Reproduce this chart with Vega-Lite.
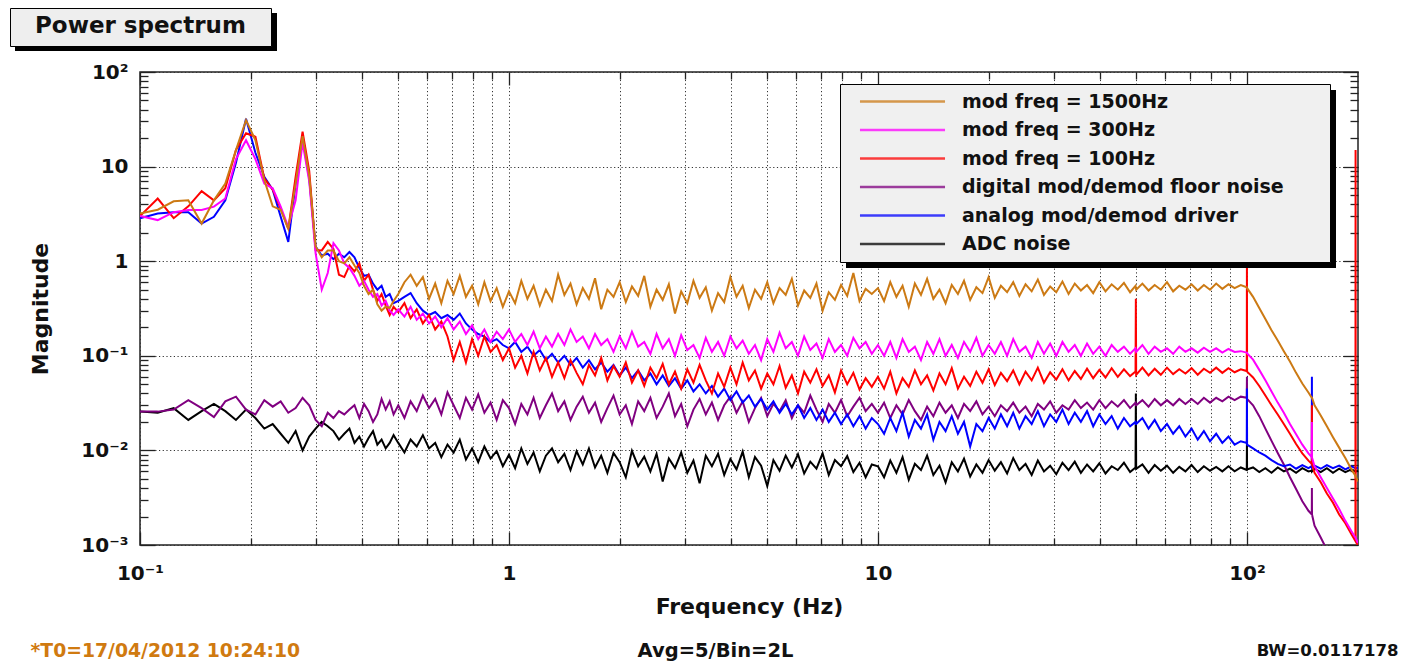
{
  "$schema": "https://vega.github.io/schema/vega-lite/v6.json",
  "width": 1218,
  "height": 473,
  "autosize": {"type": "none"},
  "padding": {"left": 140, "top": 72, "right": 47, "bottom": 117},
  "background": "white",
  "config": {
    "font": "DejaVu Sans",
    "view": {"stroke": "#222222", "strokeWidth": 1.5},
    "axis": {"labelFont": "DejaVu Sans", "titleFont": "DejaVu Sans", "labelFontWeight": "bold", "titleFontWeight": "bold", "labelColor": "#111111", "titleColor": "#111111"},
    "legend": {"labelFont": "DejaVu Sans", "titleFont": "DejaVu Sans"}
  },
  "resolve": {"axis": {"x": "independent", "y": "independent"}},
  "layer": [
    {
      "data": {"values": [
        {"f":0.1,"o":3.2,"m":3.0,"r":3.0,"p":0.0257,"b":2.85,"k":0.0257},
        {"f":0.1117,"o":3.5,"m":2.72,"r":4.6,"p":0.0257,"b":3.2,"k":0.025},
        {"f":0.1234,"o":4.3,"m":3.3,"r":2.85,"p":0.027,"b":3.3,"k":0.028},
        {"f":0.1352,"o":4.4,"m":3.47,"r":3.8,"p":0.034,"b":3.3,"k":0.021},
        {"f":0.1469,"o":2.5,"m":3.47,"r":5.5,"p":0.028,"b":2.5,"k":0.026},
        {"f":0.1586,"o":4.4,"m":3.77,"r":4.4,"p":0.0225,"b":2.95,"k":0.031},
        {"f":0.1703,"o":6.6,"m":4.6,"r":5.9,"p":0.033,"b":4.4,"k":0.026},
        {"f":0.182,"o":15,"m":12,"r":15,"p":0.037,"b":11,"k":0.021},
        {"f":0.1938,"o":31,"m":19,"r":22.5,"p":0.027,"b":32,"k":0.027},
        {"f":0.2055,"o":19,"m":12,"r":20.7,"p":0.024,"b":14,"k":0.022},
        {"f":0.2172,"o":7.2,"m":6.6,"r":7.5,"p":0.034,"b":7.8,"k":0.017},
        {"f":0.2289,"o":3.8,"m":5.9,"r":5.7,"p":0.029,"b":5.7,"k":0.019},
        {"f":0.2406,"o":3.5,"m":3.77,"r":3.6,"p":0.033,"b":2.95,"k":0.015},
        {"f":0.2523,"o":2.2,"m":2.3,"r":2.2,"p":0.025,"b":1.6,"k":0.012},
        {"f":0.2641,"o":6.6,"m":4.4,"r":7.8,"p":0.028,"b":6.6,"k":0.016},
        {"f":0.2758,"o":21,"m":18,"r":23.4,"p":0.036,"b":20,"k":0.01},
        {"f":0.2875,"o":8,"m":7,"r":9,"p":0.03,"b":7.5,"k":0.014},
        {"f":0.2992,"o":1.43,"m":1.21,"r":1.31,"p":0.021,"b":1.43,"k":0.017},
        {"f":0.3109,"o":1.1,"m":0.5,"r":1.3,"p":0.018,"b":1.15,"k":0.02},
        {"f":0.3227,"o":1.3,"m":0.75,"r":1.6,"p":0.025,"b":1.2,"k":0.018},
        {"f":0.3344,"o":1.3,"m":1.55,"r":1.35,"p":0.022,"b":1.05,"k":0.016},
        {"f":0.3461,"o":1.0,"m":1.3,"r":0.72,"p":0.026,"b":1.2,"k":0.013},
        {"f":0.3578,"o":0.95,"m":0.95,"r":0.68,"p":0.024,"b":1.1,"k":0.015},
        {"f":0.3695,"o":1.1,"m":0.85,"r":0.9,"p":0.027,"b":1.25,"k":0.017},
        {"f":0.3813,"o":0.9,"m":0.7,"r":0.78,"p":0.03,"b":1.1,"k":0.012},
        {"f":0.393,"o":0.75,"m":0.55,"r":0.95,"p":0.022,"b":0.85,"k":0.014},
        {"f":0.4047,"o":0.55,"m":0.62,"r":0.62,"p":0.031,"b":0.7,"k":0.011},
        {"f":0.4164,"o":0.45,"m":0.5,"r":0.72,"p":0.026,"b":0.72,"k":0.0135},
        {"f":0.4281,"o":0.5,"m":0.42,"r":0.5,"p":0.02,"b":0.58,"k":0.016},
        {"f":0.4398,"o":0.35,"m":0.45,"r":0.38,"p":0.024,"b":0.5,"k":0.0115},
        {"f":0.4516,"o":0.3,"m":0.34,"r":0.45,"p":0.035,"b":0.55,"k":0.013},
        {"f":0.4633,"o":0.33,"m":0.38,"r":0.34,"p":0.027,"b":0.42,"k":0.0105},
        {"f":0.475,"o":0.32,"m":0.3,"r":0.27,"p":0.033,"b":0.45,"k":0.012},
        {"f":0.4867,"o":0.38,"m":0.27,"r":0.33,"p":0.024,"b":0.36,"k":0.0145},
        {"f":0.5012,"o":0.45,"m":0.31,"r":0.29,"p":0.03,"b":0.38,"k":0.012},
        {"f":0.5208,"o":0.6,"m":0.26,"r":0.36,"p":0.022,"b":0.42,"k":0.0095},
        {"f":0.5412,"o":0.72,"m":0.33,"r":0.25,"p":0.033,"b":0.46,"k":0.013},
        {"f":0.5623,"o":0.55,"m":0.24,"r":0.31,"p":0.026,"b":0.36,"k":0.011},
        {"f":0.5843,"o":0.68,"m":0.28,"r":0.22,"p":0.038,"b":0.3,"k":0.0145},
        {"f":0.6072,"o":0.4,"m":0.22,"r":0.27,"p":0.028,"b":0.27,"k":0.0105},
        {"f":0.631,"o":0.58,"m":0.26,"r":0.19,"p":0.035,"b":0.29,"k":0.012},
        {"f":0.6556,"o":0.36,"m":0.2,"r":0.23,"p":0.024,"b":0.25,"k":0.0085},
        {"f":0.6813,"o":0.62,"m":0.25,"r":0.16,"p":0.041,"b":0.27,"k":0.0115},
        {"f":0.7079,"o":0.45,"m":0.19,"r":0.09,"p":0.03,"b":0.24,"k":0.0095},
        {"f":0.7356,"o":0.7,"m":0.23,"r":0.14,"p":0.022,"b":0.28,"k":0.013},
        {"f":0.7644,"o":0.42,"m":0.17,"r":0.085,"p":0.036,"b":0.22,"k":0.008},
        {"f":0.7943,"o":0.55,"m":0.21,"r":0.15,"p":0.027,"b":0.19,"k":0.0105},
        {"f":0.8254,"o":0.35,"m":0.15,"r":0.1,"p":0.039,"b":0.17,"k":0.0075},
        {"f":0.8577,"o":0.6,"m":0.19,"r":0.16,"p":0.025,"b":0.16,"k":0.011},
        {"f":0.8913,"o":0.38,"m":0.14,"r":0.11,"p":0.032,"b":0.14,"k":0.0082},
        {"f":0.9261,"o":0.52,"m":0.18,"r":0.13,"p":0.021,"b":0.15,"k":0.0098},
        {"f":0.9624,"o":0.33,"m":0.15,"r":0.09,"p":0.034,"b":0.13,"k":0.0068},
        {"f":1.0,"o":0.48,"m":0.19,"r":0.12,"p":0.028,"b":0.12,"k":0.009},
        {"f":1.039,"o":0.36,"m":0.14,"r":0.075,"p":0.019,"b":0.14,"k":0.0065},
        {"f":1.08,"o":0.62,"m":0.17,"r":0.1,"p":0.031,"b":0.11,"k":0.0105},
        {"f":1.122,"o":0.4,"m":0.13,"r":0.065,"p":0.024,"b":0.125,"k":0.0072},
        {"f":1.166,"o":0.55,"m":0.18,"r":0.11,"p":0.036,"b":0.1,"k":0.0095},
        {"f":1.212,"o":0.34,"m":0.12,"r":0.07,"p":0.022,"b":0.115,"k":0.006},
        {"f":1.259,"o":0.5,"m":0.16,"r":0.095,"p":0.03,"b":0.09,"k":0.0088},
        {"f":1.308,"o":0.38,"m":0.125,"r":0.06,"p":0.04,"b":0.105,"k":0.0105},
        {"f":1.359,"o":0.72,"m":0.17,"r":0.085,"p":0.026,"b":0.085,"k":0.0075},
        {"f":1.413,"o":0.44,"m":0.13,"r":0.058,"p":0.033,"b":0.1,"k":0.0092},
        {"f":1.468,"o":0.58,"m":0.19,"r":0.09,"p":0.021,"b":0.08,"k":0.0062},
        {"f":1.525,"o":0.35,"m":0.14,"r":0.066,"p":0.029,"b":0.095,"k":0.0098},
        {"f":1.585,"o":0.52,"m":0.16,"r":0.05,"p":0.037,"b":0.075,"k":0.0071},
        {"f":1.647,"o":0.4,"m":0.12,"r":0.08,"p":0.025,"b":0.09,"k":0.0105},
        {"f":1.711,"o":0.66,"m":0.17,"r":0.062,"p":0.032,"b":0.072,"k":0.0066},
        {"f":1.778,"o":0.31,"m":0.13,"r":0.095,"p":0.02,"b":0.085,"k":0.0088},
        {"f":1.848,"o":0.5,"m":0.15,"r":0.055,"p":0.028,"b":0.068,"k":0.0058},
        {"f":1.92,"o":0.42,"m":0.11,"r":0.078,"p":0.038,"b":0.08,"k":0.0094},
        {"f":1.995,"o":0.6,"m":0.16,"r":0.06,"p":0.024,"b":0.062,"k":0.0075},
        {"f":2.073,"o":0.37,"m":0.12,"r":0.085,"p":0.03,"b":0.075,"k":0.0052},
        {"f":2.154,"o":0.54,"m":0.18,"r":0.052,"p":0.019,"b":0.058,"k":0.0099},
        {"f":2.239,"o":0.43,"m":0.125,"r":0.07,"p":0.033,"b":0.07,"k":0.0068},
        {"f":2.326,"o":0.7,"m":0.14,"r":0.048,"p":0.026,"b":0.055,"k":0.0086},
        {"f":2.417,"o":0.33,"m":0.105,"r":0.075,"p":0.036,"b":0.065,"k":0.006},
        {"f":2.512,"o":0.5,"m":0.17,"r":0.058,"p":0.022,"b":0.05,"k":0.0092},
        {"f":2.61,"o":0.39,"m":0.12,"r":0.082,"p":0.029,"b":0.062,"k":0.0047},
        {"f":2.712,"o":0.57,"m":0.15,"r":0.05,"p":0.04,"b":0.048,"k":0.0082},
        {"f":2.818,"o":0.28,"m":0.1,"r":0.068,"p":0.023,"b":0.058,"k":0.0065},
        {"f":2.929,"o":0.48,"m":0.165,"r":0.045,"p":0.031,"b":0.045,"k":0.0095},
        {"f":3.043,"o":0.36,"m":0.115,"r":0.072,"p":0.018,"b":0.055,"k":0.0058},
        {"f":3.162,"o":0.62,"m":0.13,"r":0.052,"p":0.027,"b":0.042,"k":0.0078},
        {"f":3.286,"o":0.41,"m":0.095,"r":0.08,"p":0.035,"b":0.05,"k":0.0045},
        {"f":3.415,"o":0.53,"m":0.155,"r":0.055,"p":0.024,"b":0.04,"k":0.0088},
        {"f":3.548,"o":0.3,"m":0.11,"r":0.04,"p":0.032,"b":0.048,"k":0.0068},
        {"f":3.687,"o":0.46,"m":0.14,"r":0.065,"p":0.021,"b":0.037,"k":0.0092},
        {"f":3.831,"o":0.37,"m":0.1,"r":0.047,"p":0.03,"b":0.045,"k":0.0055},
        {"f":3.981,"o":0.68,"m":0.16,"r":0.075,"p":0.037,"b":0.034,"k":0.0081},
        {"f":4.137,"o":0.42,"m":0.12,"r":0.05,"p":0.025,"b":0.042,"k":0.0063},
        {"f":4.299,"o":0.55,"m":0.145,"r":0.085,"p":0.033,"b":0.032,"k":0.0097},
        {"f":4.467,"o":0.32,"m":0.105,"r":0.055,"p":0.02,"b":0.038,"k":0.0052},
        {"f":4.642,"o":0.5,"m":0.13,"r":0.07,"p":0.028,"b":0.029,"k":0.0085},
        {"f":4.823,"o":0.4,"m":0.09,"r":0.045,"p":0.036,"b":0.035,"k":0.0069},
        {"f":5.012,"o":0.6,"m":0.15,"r":0.065,"p":0.023,"b":0.027,"k":0.0042},
        {"f":5.208,"o":0.36,"m":0.11,"r":0.05,"p":0.031,"b":0.033,"k":0.0079},
        {"f":5.412,"o":0.52,"m":0.175,"r":0.078,"p":0.026,"b":0.025,"k":0.0061},
        {"f":5.623,"o":0.44,"m":0.12,"r":0.046,"p":0.034,"b":0.031,"k":0.0088},
        {"f":5.843,"o":0.65,"m":0.14,"r":0.062,"p":0.022,"b":0.024,"k":0.0066},
        {"f":6.072,"o":0.34,"m":0.1,"r":0.04,"p":0.03,"b":0.03,"k":0.0091},
        {"f":6.31,"o":0.49,"m":0.16,"r":0.068,"p":0.025,"b":0.022,"k":0.0057},
        {"f":6.556,"o":0.41,"m":0.115,"r":0.052,"p":0.038,"b":0.028,"k":0.0076},
        {"f":6.813,"o":0.58,"m":0.135,"r":0.072,"p":0.027,"b":0.021,"k":0.0064},
        {"f":7.079,"o":0.3,"m":0.095,"r":0.048,"p":0.02,"b":0.027,"k":0.0093},
        {"f":7.356,"o":0.47,"m":0.15,"r":0.062,"p":0.031,"b":0.02,"k":0.0055},
        {"f":7.644,"o":0.39,"m":0.11,"r":0.041,"p":0.025,"b":0.025,"k":0.0079},
        {"f":7.943,"o":0.56,"m":0.13,"r":0.07,"p":0.034,"b":0.019,"k":0.0068},
        {"f":8.254,"o":0.43,"m":0.1,"r":0.05,"p":0.023,"b":0.024,"k":0.0087},
        {"f":8.577,"o":0.75,"m":0.155,"r":0.066,"p":0.029,"b":0.018,"k":0.0059},
        {"f":8.913,"o":0.38,"m":0.12,"r":0.044,"p":0.036,"b":0.023,"k":0.0074},
        {"f":9.261,"o":0.51,"m":0.14,"r":0.058,"p":0.026,"b":0.017,"k":0.0052},
        {"f":9.624,"o":0.45,"m":0.105,"r":0.047,"p":0.031,"b":0.022,"k":0.0071},
        {"f":10.0,"o":0.52,"m":0.13,"r":0.06,"p":0.025,"b":0.019,"k":0.0068},
        {"f":10.39,"o":0.38,"m":0.1,"r":0.045,"p":0.032,"b":0.015,"k":0.0052},
        {"f":10.8,"o":0.6,"m":0.14,"r":0.068,"p":0.022,"b":0.022,"k":0.0078},
        {"f":11.22,"o":0.42,"m":0.095,"r":0.04,"p":0.03,"b":0.016,"k":0.0058},
        {"f":11.66,"o":0.55,"m":0.15,"r":0.058,"p":0.024,"b":0.025,"k":0.0085},
        {"f":12.12,"o":0.33,"m":0.11,"r":0.047,"p":0.034,"b":0.014,"k":0.0049},
        {"f":12.59,"o":0.58,"m":0.125,"r":0.07,"p":0.026,"b":0.021,"k":0.0072},
        {"f":13.08,"o":0.44,"m":0.09,"r":0.05,"p":0.021,"b":0.017,"k":0.0062},
        {"f":13.59,"o":0.65,"m":0.14,"r":0.062,"p":0.029,"b":0.024,"k":0.0088},
        {"f":14.13,"o":0.4,"m":0.105,"r":0.043,"p":0.023,"b":0.013,"k":0.0055},
        {"f":14.68,"o":0.5,"m":0.15,"r":0.065,"p":0.032,"b":0.02,"k":0.0069},
        {"f":15.25,"o":0.36,"m":0.1,"r":0.05,"p":0.025,"b":0.016,"k":0.0046},
        {"f":15.85,"o":0.56,"m":0.13,"r":0.074,"p":0.03,"b":0.023,"k":0.0075},
        {"f":16.47,"o":0.45,"m":0.095,"r":0.045,"p":0.022,"b":0.015,"k":0.006},
        {"f":17.11,"o":0.62,"m":0.14,"r":0.06,"p":0.031,"b":0.02,"k":0.0082},
        {"f":17.78,"o":0.39,"m":0.11,"r":0.048,"p":0.026,"b":0.011,"k":0.0053},
        {"f":18.48,"o":0.53,"m":0.155,"r":0.068,"p":0.033,"b":0.019,"k":0.0071},
        {"f":19.2,"o":0.46,"m":0.1,"r":0.052,"p":0.024,"b":0.016,"k":0.0058},
        {"f":19.95,"o":0.68,"m":0.13,"r":0.072,"p":0.029,"b":0.022,"k":0.0079},
        {"f":20.73,"o":0.41,"m":0.105,"r":0.049,"p":0.023,"b":0.017,"k":0.0061},
        {"f":21.54,"o":0.55,"m":0.14,"r":0.066,"p":0.03,"b":0.024,"k":0.0075},
        {"f":22.39,"o":0.47,"m":0.1,"r":0.054,"p":0.026,"b":0.018,"k":0.0057},
        {"f":23.26,"o":0.6,"m":0.15,"r":0.07,"p":0.032,"b":0.025,"k":0.0083},
        {"f":24.17,"o":0.43,"m":0.11,"r":0.05,"p":0.025,"b":0.017,"k":0.0062},
        {"f":25.12,"o":0.57,"m":0.125,"r":0.068,"p":0.029,"b":0.023,"k":0.0072},
        {"f":26.1,"o":0.48,"m":0.095,"r":0.055,"p":0.023,"b":0.019,"k":0.0055},
        {"f":27.12,"o":0.64,"m":0.14,"r":0.075,"p":0.031,"b":0.026,"k":0.0078},
        {"f":28.18,"o":0.44,"m":0.105,"r":0.052,"p":0.027,"b":0.018,"k":0.006},
        {"f":29.29,"o":0.54,"m":0.135,"r":0.067,"p":0.033,"b":0.024,"k":0.0069},
        {"f":30.43,"o":0.47,"m":0.1,"r":0.056,"p":0.025,"b":0.02,"k":0.0056},
        {"f":31.62,"o":0.61,"m":0.14,"r":0.072,"p":0.03,"b":0.027,"k":0.0074},
        {"f":32.86,"o":0.45,"m":0.11,"r":0.055,"p":0.027,"b":0.019,"k":0.0062},
        {"f":34.15,"o":0.58,"m":0.13,"r":0.069,"p":0.034,"b":0.025,"k":0.0076},
        {"f":35.48,"o":0.49,"m":0.1,"r":0.057,"p":0.028,"b":0.02,"k":0.0058},
        {"f":36.87,"o":0.56,"m":0.135,"r":0.073,"p":0.032,"b":0.026,"k":0.0071},
        {"f":38.31,"o":0.46,"m":0.105,"r":0.058,"p":0.027,"b":0.018,"k":0.006},
        {"f":39.81,"o":0.6,"m":0.125,"r":0.071,"p":0.034,"b":0.024,"k":0.0073},
        {"f":41.37,"o":0.48,"m":0.1,"r":0.059,"p":0.028,"b":0.019,"k":0.0057},
        {"f":42.99,"o":0.57,"m":0.13,"r":0.074,"p":0.033,"b":0.023,"k":0.0068},
        {"f":44.67,"o":0.5,"m":0.11,"r":0.06,"p":0.029,"b":0.017,"k":0.0062},
        {"f":46.42,"o":0.59,"m":0.125,"r":0.072,"p":0.034,"b":0.022,"k":0.0074},
        {"f":48.23,"o":0.47,"m":0.105,"r":0.061,"p":0.028,"b":0.018,"k":0.0059},
        {"f":49.9,"o":0.55,"m":0.12,"r":0.068,"p":0.032,"b":0.02,"k":0.0066},
        {"f":50.0,"o":0.52,"m":0.115,"r":0.4,"p":0.03,"b":0.019,"k":0.04},
        {"f":50.1,"o":0.5,"m":0.11,"r":0.063,"p":0.03,"b":0.019,"k":0.0064},
        {"f":52.08,"o":0.58,"m":0.13,"r":0.075,"p":0.034,"b":0.022,"k":0.0071},
        {"f":54.12,"o":0.49,"m":0.105,"r":0.062,"p":0.029,"b":0.017,"k":0.0058},
        {"f":56.23,"o":0.56,"m":0.125,"r":0.073,"p":0.035,"b":0.021,"k":0.007},
        {"f":58.43,"o":0.5,"m":0.11,"r":0.063,"p":0.03,"b":0.016,"k":0.0061},
        {"f":60.72,"o":0.6,"m":0.12,"r":0.075,"p":0.034,"b":0.019,"k":0.0069},
        {"f":63.1,"o":0.48,"m":0.105,"r":0.064,"p":0.03,"b":0.015,"k":0.0058},
        {"f":65.56,"o":0.55,"m":0.125,"r":0.072,"p":0.035,"b":0.018,"k":0.0067},
        {"f":68.13,"o":0.5,"m":0.11,"r":0.065,"p":0.031,"b":0.014,"k":0.006},
        {"f":70.79,"o":0.57,"m":0.12,"r":0.074,"p":0.035,"b":0.017,"k":0.007},
        {"f":73.56,"o":0.49,"m":0.108,"r":0.063,"p":0.031,"b":0.013,"k":0.0059},
        {"f":76.44,"o":0.56,"m":0.122,"r":0.073,"p":0.036,"b":0.016,"k":0.0068},
        {"f":79.43,"o":0.5,"m":0.11,"r":0.066,"p":0.032,"b":0.0125,"k":0.0061},
        {"f":82.54,"o":0.58,"m":0.12,"r":0.075,"p":0.036,"b":0.015,"k":0.0067},
        {"f":85.77,"o":0.51,"m":0.108,"r":0.066,"p":0.033,"b":0.012,"k":0.006},
        {"f":89.13,"o":0.57,"m":0.118,"r":0.074,"p":0.037,"b":0.014,"k":0.0068},
        {"f":92.61,"o":0.52,"m":0.11,"r":0.067,"p":0.034,"b":0.0115,"k":0.006},
        {"f":96.24,"o":0.56,"m":0.112,"r":0.072,"p":0.037,"b":0.0125,"k":0.0066},
        {"f":99.9,"o":0.53,"m":0.108,"r":0.069,"p":0.036,"b":0.012,"k":0.0062},
        {"f":100.0,"o":0.52,"m":0.11,"r":1.0,"p":0.06,"b":0.045,"k":0.012},
        {"f":100.1,"o":0.52,"m":0.106,"r":0.068,"p":0.035,"b":0.0115,"k":0.0063},
        {"f":103.9,"o":0.42,"m":0.091,"r":0.059,"p":0.03,"b":0.0105,"k":0.0066},
        {"f":108.0,"o":0.32,"m":0.071,"r":0.048,"p":0.023,"b":0.0095,"k":0.0059},
        {"f":112.2,"o":0.245,"m":0.055,"r":0.038,"p":0.017,"b":0.0088,"k":0.0065},
        {"f":116.6,"o":0.186,"m":0.042,"r":0.03,"p":0.0126,"b":0.0079,"k":0.0058},
        {"f":121.2,"o":0.145,"m":0.032,"r":0.024,"p":0.0094,"b":0.0072,"k":0.0066},
        {"f":125.9,"o":0.112,"m":0.025,"r":0.019,"p":0.0071,"b":0.0068,"k":0.006},
        {"f":130.8,"o":0.087,"m":0.019,"r":0.015,"p":0.0052,"b":0.0071,"k":0.0064},
        {"f":135.9,"o":0.066,"m":0.0148,"r":0.0117,"p":0.0039,"b":0.0064,"k":0.0058},
        {"f":141.3,"o":0.051,"m":0.0115,"r":0.0093,"p":0.0029,"b":0.007,"k":0.0065},
        {"f":146.8,"o":0.041,"m":0.0093,"r":0.0078,"p":0.0023,"b":0.0065,"k":0.006},
        {"f":149.9,"o":0.036,"m":0.0085,"r":0.0072,"p":0.0021,"b":0.0068,"k":0.0061},
        {"f":150.0,"o":0.036,"m":0.02,"r":0.03,"p":0.004,"b":0.06,"k":0.0063},
        {"f":150.1,"o":0.036,"m":0.0084,"r":0.0071,"p":0.0021,"b":0.0066,"k":0.006},
        {"f":152.5,"o":0.03,"m":0.0068,"r":0.0058,"p":0.0016,"b":0.0069,"k":0.0064},
        {"f":158.5,"o":0.0234,"m":0.0052,"r":0.0046,"p":0.0012,"b":0.0064,"k":0.0059},
        {"f":164.7,"o":0.018,"m":0.004,"r":0.0035,"p":0.00089,"b":0.007,"k":0.0065},
        {"f":171.1,"o":0.0138,"m":0.0031,"r":0.0028,"p":0.00066,"b":0.0065,"k":0.0058},
        {"f":177.8,"o":0.0107,"m":0.0024,"r":0.0021,"p":0.0005,"b":0.0069,"k":0.0064},
        {"f":184.8,"o":0.0083,"m":0.0018,"r":0.0017,"p":0.00037,"b":0.0063,"k":0.0059},
        {"f":192.0,"o":0.0063,"m":0.0014,"r":0.0013,"p":0.00028,"b":0.0068,"k":0.0063},
        {"f":196.8,"o":0.0054,"m":0.0012,"r":0.0011,"p":0.00022,"b":0.0065,"k":0.006},
        {"f":197.0,"o":0.0053,"m":0.0012,"r":15,"p":0.00022,"b":0.0066,"k":0.0061},
        {"f":197.2,"o":0.0053,"m":0.00118,"r":0.0011,"p":0.00022,"b":0.0064,"k":0.006},
        {"f":199.9,"o":0.0047,"m":0.00105,"r":0.00098,"p":0.0002,"b":0.0066,"k":0.0061}
      ]},
      "transform": [{"fold": ["k", "p", "b", "r", "m", "o"], "as": ["key", "val"]}],
      "mark": {"type": "line", "strokeWidth": 2, "clip": true},
      "encoding": {
        "x": {"field": "f", "type": "quantitative",
          "scale": {"type": "log", "domain": [0.1, 200], "nice": false},
          "axis": {"orient": "bottom", "values": [0.1, 1, 10, 100],
            "labelExpr": "datum.value < 0.5 ? '10⁻¹' : datum.value < 5 ? '1' : datum.value < 50 ? '10' : '10²'",
            "ticks": false, "tickSize": 0, "domain": false, "grid": false, "labelFlush": false,
            "labelFontSize": 20, "labelPadding": 18,
            "title": "Frequency (Hz)", "titleFontSize": 22, "titlePadding": 13}},
        "y": {"field": "val", "type": "quantitative",
          "scale": {"type": "log", "domain": [0.001, 100], "nice": false},
          "axis": {"orient": "left", "values": [0.001, 0.01, 0.1, 1, 10, 100],
            "labelExpr": "datum.value > 50 ? '10²' : datum.value > 5 ? '10' : datum.value > 0.5 ? '1' : datum.value > 0.05 ? '10⁻¹' : datum.value > 0.005 ? '10⁻²' : '10⁻³'",
            "ticks": false, "tickSize": 0, "domain": false, "grid": false,
            "labelFontSize": 20, "labelPadding": 12, "labelBaseline": "middle",
            "title": "Magnitude", "titleFontSize": 22, "titlePadding": 28}},
        "color": {"field": "key", "type": "nominal",
          "scale": {"domain": ["o", "m", "r", "p", "b", "k"],
            "range": ["#cc7a14", "#ff00ff", "#ff0000", "#800080", "#0000ff", "#000000"]},
          "legend": {"orient": "none", "legendX": 700, "legendY": 12, "zindex": 3,
            "title": "\u00a0", "titleOrient": "right", "titlePadding": 38,
            "fillColor": "#f0f0f0", "strokeColor": "#000000", "padding": 8,
            "labelFontSize": 19, "labelFontWeight": "bold", "labelColor": "#111111", "labelLimit": 500,
            "symbolType": "M-8,0H8", "symbolSize": 113, "symbolStrokeWidth": 2.5, "symbolOpacity": 0.75,
            "symbolOffset": 45, "labelOffset": 50, "rowPadding": 8.5,
            "labelExpr": "datum.label == 'o' ? 'mod freq = 1500Hz' : datum.label == 'm' ? 'mod freq = 300Hz' : datum.label == 'r' ? 'mod freq = 100Hz' : datum.label == 'p' ? 'digital mod/demod floor noise' : datum.label == 'b' ? 'analog mod/demod driver' : 'ADC noise'"}}
      }
    },
    {
      "data": {"values": [{"f": 1, "v": 0.000001, "s": "a"}]},
      "mark": {"type": "point", "filled": true, "color": "#000000", "opacity": 1, "clip": true},
      "encoding": {
        "x": {"field": "f", "type": "quantitative",
          "scale": {"type": "log", "domain": [0.1, 200], "nice": false},
          "axis": {"orient": "bottom",
            "values": [0.1,0.2,0.3,0.4,0.5,0.6,0.7,0.8,0.9,1,2,3,4,5,6,7,8,9,10,20,30,40,50,60,70,80,90,100],
            "labels": false, "domain": false,
            "grid": true, "gridDash": [1.2, 2.5], "gridColor": "#333333", "gridWidth": 1,
            "ticks": true, "tickColor": "#222222", "tickWidth": 1.3,
            "tickSize": {"condition": {"test": "indexof([0.1,1,10,100], datum.value) >= 0", "value": -13}, "value": -7},
            "title": "Avg=5/Bin=2L", "titleFontSize": 19.5, "titleX": 575, "titleY": 105, "titleAlign": "center", "titleBaseline": "middle", "titleColor": "#111111"}},
        "y": {"field": "v", "type": "quantitative",
          "scale": {"type": "log", "domain": [0.001, 100], "nice": false},
          "axis": {"orient": "left",
            "values": [0.001,0.002,0.003,0.004,0.005,0.006,0.007,0.008,0.009,0.01,0.02,0.03,0.04,0.05,0.06,0.07,0.08,0.09,0.1,0.2,0.3,0.4,0.5,0.6,0.7,0.8,0.9,1,2,3,4,5,6,7,8,9,10,20,30,40,50,60,70,80,90,100],
            "labels": false, "domain": false,
            "grid": true, "gridDash": [1.2, 2.5], "gridColor": "#333333", "gridWidth": 1,
            "gridOpacity": {"condition": {"test": "indexof([0.001,0.01,0.1,1,10,100], datum.value) >= 0", "value": 1}, "value": 0},
            "ticks": true, "tickColor": "#222222", "tickWidth": 1.3,
            "tickSize": {"condition": {"test": "indexof([0.001,0.01,0.1,1,10,100], datum.value) >= 0", "value": -15}, "value": -8},
            "title": null}},
        "size": {"field": "s", "type": "ordinal",
          "scale": {"domain": ["a"], "range": [240100, 240100]},
          "legend": {"orient": "none", "legendX": 706, "legendY": -138, "zindex": 2,
            "title": null, "padding": 0, "symbolType": "M-1,-0.3633H1V0.3633H-1Z",
            "symbolFillColor": "#000000", "symbolStrokeColor": "#000000", "symbolStrokeWidth": 0, "symbolOpacity": 1,
            "labelExpr": "''", "labelFontSize": 1}}
      }
    },
    {
      "data": {"values": [{"f": 1, "v": 0.000001, "q": "b"}]},
      "mark": {"type": "point", "filled": true, "color": "#000000", "clip": true},
      "encoding": {
        "x": {"field": "f", "type": "quantitative",
          "scale": {"type": "log", "domain": [0.1, 200], "nice": false},
          "axis": {"orient": "top",
            "values": [0.1,0.2,0.3,0.4,0.5,0.6,0.7,0.8,0.9,1,2,3,4,5,6,7,8,9,10,20,30,40,50,60,70,80,90,100],
            "labels": false, "domain": false, "grid": false,
            "ticks": true, "tickColor": "#222222", "tickWidth": 1.3,
            "tickSize": {"condition": {"test": "indexof([0.1,1,10,100], datum.value) >= 0", "value": -13}, "value": -7},
            "title": "BW=0.0117178", "titleFontSize": 16.5, "titleX": 1258, "titleY": 578, "titleAlign": "right", "titleBaseline": "middle", "titleAnchor": "end", "titleColor": "#111111"}},
        "y": {"field": "v", "type": "quantitative",
          "scale": {"type": "log", "domain": [0.001, 100], "nice": false},
          "axis": {"orient": "right",
            "values": [0.001,0.002,0.003,0.004,0.005,0.006,0.007,0.008,0.009,0.01,0.02,0.03,0.04,0.05,0.06,0.07,0.08,0.09,0.1,0.2,0.3,0.4,0.5,0.6,0.7,0.8,0.9,1,2,3,4,5,6,7,8,9,10,20,30,40,50,60,70,80,90,100],
            "labels": false, "domain": false, "grid": false,
            "ticks": true, "tickColor": "#222222", "tickWidth": 1.3,
            "tickSize": {"condition": {"test": "indexof([0.001,0.01,0.1,1,10,100], datum.value) >= 0", "value": -15}, "value": -8},
            "title": null}},
        "opacity": {"field": "q", "type": "ordinal",
          "scale": {"domain": ["b"], "range": [1, 1]},
          "legend": {"orient": "none", "legendX": -125, "legendY": -171, "zindex": 2,
            "title": null, "padding": 0, "symbolType": "M-1,-0.145H1V0.145H-1Z", "symbolSize": 68644,
            "symbolFillColor": "#000000", "symbolStrokeColor": "#000000", "symbolStrokeWidth": 0,
            "labelExpr": "''", "labelFontSize": 1}}
      }
    },
    {
      "data": {"values": [{"f": 1, "v": 1, "t": "a"}]},
      "mark": {"type": "point", "opacity": 0},
      "encoding": {
        "x": {"field": "f", "type": "quantitative",
          "scale": {"type": "log", "domain": [0.1, 200], "nice": false},
          "axis": {"orient": "bottom", "labels": false, "ticks": false, "domain": false, "grid": false,
            "title": "*T0=17/04/2012 10:24:10", "titleFontSize": 18.8, "titleColor": "#d07a10",
            "titleX": -110, "titleY": 105, "titleAlign": "left", "titleAnchor": "start", "titleBaseline": "middle"}},
        "shape": {"field": "t", "type": "nominal",
          "legend": {"orient": "none", "legendX": -130, "legendY": -64, "zindex": 3,
            "title": "\u2800Power spectrum\u2800", "titleFontSize": 23, "titleFontWeight": "bold", "titleColor": "#111111",
            "titleLimit": 600, "titlePadding": 0, "padding": 7, "fillColor": "#eeeeee", "strokeColor": "#000000",
            "labelExpr": "''", "labelFontSize": 1, "symbolSize": 0, "symbolStrokeWidth": 0}}
      }
    }
  ]
}
